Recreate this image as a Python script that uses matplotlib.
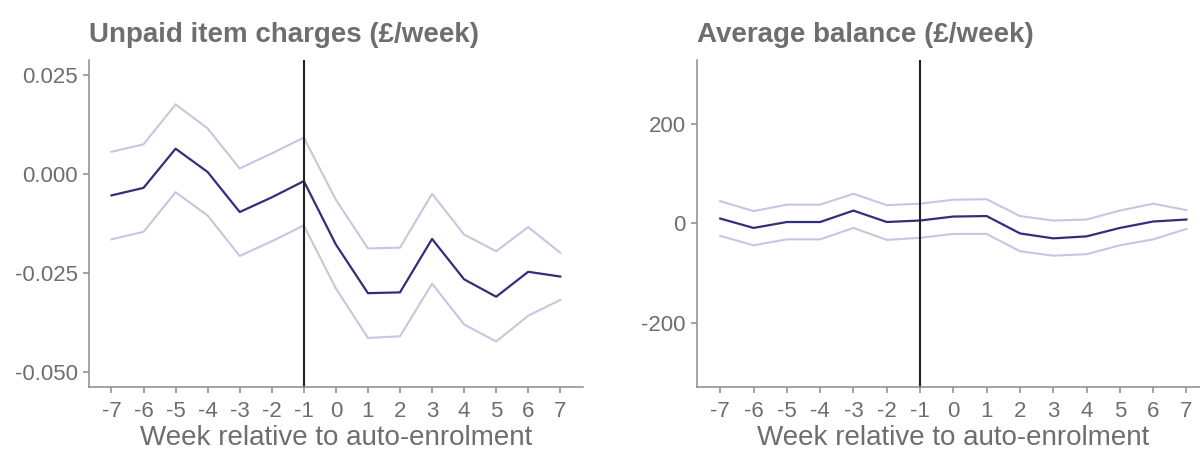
import matplotlib
matplotlib.use("Agg")
import matplotlib.pyplot as plt
import numpy as np

# Data -----------------------------------------------------------
weeks = list(range(-7, 8))

unpaid_est = [-0.0054, -0.0035, 0.0064, 0.0005, -0.0096, -0.0059, -0.0018,
              -0.0178, -0.0301, -0.0299, -0.0164, -0.0266, -0.0310, -0.0247, -0.0259]
unpaid_hi = [0.0056, 0.0075, 0.0176, 0.0115, 0.0014, 0.0052, 0.0092,
             -0.0065, -0.0188, -0.0186, -0.0050, -0.0153, -0.0195, -0.0134, -0.0199]
unpaid_lo = [-0.0165, -0.0146, -0.0046, -0.0105, -0.0207, -0.0170, -0.0130,
             -0.0289, -0.0414, -0.0410, -0.0277, -0.0380, -0.0423, -0.0358, -0.0318]

balance_est = [10, -9, 3, 3, 26, 3, 6, 14, 15, -20, -30, -26, -9, 4, 8]
balance_hi = [45, 25, 38, 38, 60, 37, 40, 48, 49, 15, 6, 8, 26, 40, 27]
balance_lo = [-25, -44, -32, -32, -9, -33, -29, -21, -21, -56, -65, -62, -44, -32, -11]

unpaid_ticks = [0.025, 0.0, -0.025, -0.050]
unpaid_ticklabels = ["0.025", "0.000", "-0.025", "-0.050"]
balance_ticks = [200, 0, -200]
balance_ticklabels = ["200", "0", "-200"]

# Styling ---------------------------------------------------------
plt.rcParams['font.family'] = ['Liberation Sans', 'DejaVu Sans']
main_col = "#2f2f7c"
ci_col = "#c8c6df"
text_col = "#6e6e6e"
axis_col = "#8c8c8c"

fig = plt.figure(figsize=(12, 4.5), dpi=100)
ax1 = fig.add_axes([0.0742, 0.14, 0.4114, 0.7267])
ax2 = fig.add_axes([0.5808, 0.14, 0.4273, 0.7267])


def draw_panel(ax, est, hi, lo, ylim, ticks, ticklabels, title):
    ax.plot(weeks, hi, color=ci_col, lw=1.5)
    ax.plot(weeks, lo, color=ci_col, lw=1.5)
    ax.plot(weeks, est, color=main_col, lw=1.6)
    ax.axvline(-1, color="#222222", lw=1.5)
    ax.set_xlim(-7.7, 7.7)
    ax.set_ylim(*ylim)
    ax.set_xticks(weeks)
    ax.set_xticklabels([str(w) for w in weeks])
    ax.set_yticks(ticks)
    ax.set_yticklabels(ticklabels)
    for side in ["top", "right"]:
        ax.spines[side].set_visible(False)
    for side in ["left", "bottom"]:
        ax.spines[side].set_color(axis_col)
        ax.spines[side].set_linewidth(1.1)
    ax.tick_params(axis="both", colors=axis_col, length=4, width=1.1,
                   labelcolor=text_col, labelsize=16, pad=4)
    ax.tick_params(axis="x", pad=6)
    ax.set_xlabel("Week relative to auto-enrolment", color=text_col,
                  fontsize=20, labelpad=2)
    ax.set_title(title, loc="left", color=text_col, fontsize=20,
                 fontweight="bold", pad=13)


draw_panel(ax1, unpaid_est, unpaid_hi, unpaid_lo, (-0.0538, 0.0288),
           unpaid_ticks, unpaid_ticklabels, "Unpaid item charges (£/week)")
draw_panel(ax2, balance_est, balance_hi, balance_lo, (-330, 330),
           balance_ticks, balance_ticklabels, "Average balance (£/week)")

fig.savefig("out.png", dpi=100)
